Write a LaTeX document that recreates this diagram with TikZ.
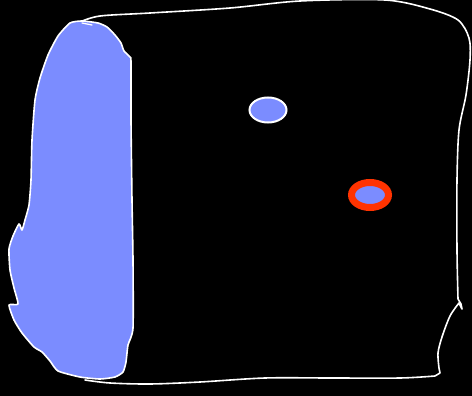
\documentclass[tikz,border=0pt]{standalone}
\usepackage{tikz}
\definecolor{BlobBlue}{RGB}{123,140,255}
\definecolor{RingRed}{RGB}{255,51,0}
\tikzset{
  sketch/.style={draw=white,line width=1.6pt,line cap=round,line join=round},
  blob/.style={sketch,fill=BlobBlue},
  dot/.style={draw=white,line width=2pt,fill=BlobBlue},
  ring/.style={draw=RingRed,line width=7pt,fill=BlobBlue},
}
\begin{document}
\begin{tikzpicture}[x=1pt,y=-1pt]
  % background
  \fill[black] (0,0) rectangle (472,396);
  \useasboundingbox (0,0) rectangle (472,396);
  % outer outline
  \draw[sketch] plot[smooth,tension=0.5] coordinates {(80,22) (100,16) (150,13) (230,8) (300,1)
    (385,0) (430,9) (458,20) (469,38) (470,60) (466,95) (459,130) (457,180) (457,250) (458,299)}
    -- (461,304) -- (462,309) -- (459,303)
    plot[smooth,tension=0.5] coordinates {(459,303) (450,316) (442,337) (438,353) (439,368)}
    -- (440,373) -- (435,376)
    plot[smooth,tension=0.5] coordinates {(435,376) (400,378) (330,378) (265,378) (200,382) (150,384) (110,383) (85,380)};
  % left blob
  \draw[blob] plot[smooth cycle,tension=0.35] coordinates {(70,23) (82,21) (98,23) (107,27) (115,35)
    (121,43) (124,51) (130,57) (131,62) (131,120) (132,200) (133,260) (133,328) (128,345) (126,362)
    (123,372) (115,377) (100,379) (80,377) (58,371) (50,361) (42,352) (34,347) (22,333) (14,320)
    (9,305) (18,304) (14,288) (10,270) (9,249) (13,236) (19,224) (22,230) (25,220) (29,205) (31,180)
    (32,140) (35,100) (40,78) (48,55) (58,36)};
  \draw[sketch,line width=1.2pt] (82,23) -- (92,25);
  % spots
  \draw[dot] (268,110) ellipse [x radius=18.5,y radius=12.5];
  \draw[ring] (370,195) ellipse [x radius=18.5,y radius=12.5];
\end{tikzpicture}
\end{document}
